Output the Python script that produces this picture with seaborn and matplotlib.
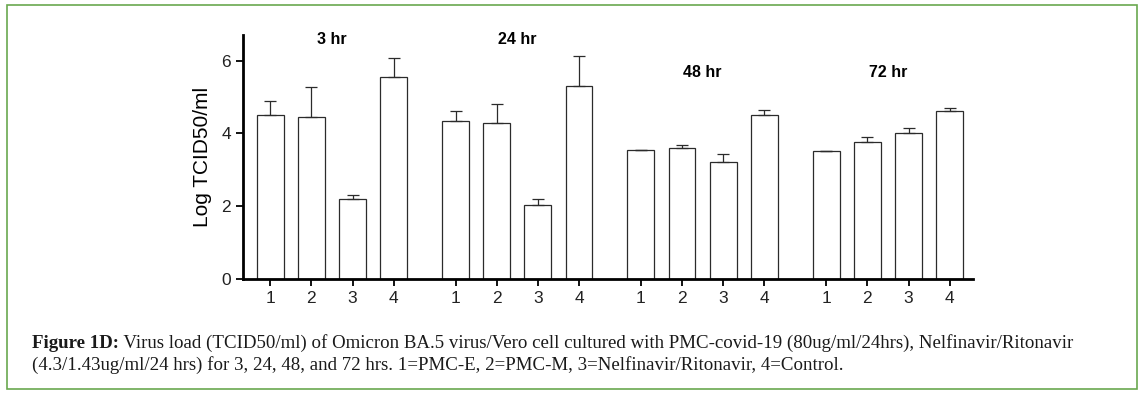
import numpy as np
import pandas as pd
import matplotlib
matplotlib.use("Agg")
import matplotlib.pyplot as plt
from matplotlib.patches import Rectangle
import seaborn as sns

# ─────────────────────────────────────────
# DATA
# ─────────────────────────────────────────
groups     = ["3 hr", "24 hr", "48 hr", "72 hr"]
treatments = ["1", "2", "3", "4"]

means_3hr  = [4.49, 4.46, 2.20, 5.54]
err_3hr    = [0.40, 0.82, 0.11, 0.54]
means_24hr = [4.35, 4.29, 2.03, 5.29]
err_24hr   = [0.25, 0.52, 0.17, 0.84]
means_48hr = [3.54, 3.60, 3.20, 4.51]
err_48hr   = [0.00, 0.08, 0.23, 0.13]
means_72hr = [3.52, 3.75, 4.00, 4.62]
err_72hr   = [0.00, 0.14, 0.14, 0.07]

caption_bold = "Figure 1D:"
caption_rest = (" Virus load (TCID50/ml) of Omicron BA.5 virus/Vero cell cultured with "
                "PMC-covid-19 (80ug/ml/24hrs), Nelfinavir/Ritonavir")
caption_line2 = ("(4.3/1.43ug/ml/24 hrs) for 3, 24, 48, and 72 hrs. 1=PMC-E, 2=PMC-M, "
                 "3=Nelfinavir/Ritonavir, 4=Control.")

# ─────────────────────────────────────────
# build a long table; bars placed in groups of 4 with a gap between groups
# ─────────────────────────────────────────
allMeans = [means_3hr, means_24hr, means_48hr, means_72hr]
allErrs  = [err_3hr, err_24hr, err_48hr, err_72hr]
groupStep = 4.5

rows = []
for g, grp in enumerate(groups):
    for b, trt in enumerate(treatments):
        rows.append({"group": grp, "treatment": trt,
                     "pos": g * groupStep + b,
                     "value": allMeans[g][b], "err": allErrs[g][b]})
df = pd.DataFrame(rows)

# ─────────────────────────────────────────
# PLOT
# ─────────────────────────────────────────
sns.set_style("ticks")
plt.rcParams["font.family"] = ["Liberation Sans", "DejaVu Sans"]

fig = plt.figure(figsize=(11.48, 3.98), dpi=100)
ax = fig.add_axes([0.2117, 0.299, 0.636, 0.613])

edge = "#2b2b2b"
sns.barplot(data=df, x="pos", y="value", native_scale=True, width=0.65,
            color="white", edgecolor=edge, linewidth=0.9, errorbar=None,
            saturation=1, ax=ax)

# upper-only error bars
ax.errorbar(df["pos"], df["value"], yerr=[np.zeros(len(df)), df["err"]],
            fmt="none", ecolor=edge, elinewidth=0.9, capsize=4.3, capthick=0.9)

# group labels above each set of bars
labelHeights = [6.57, 6.57, 5.66, 5.66]
for g, grp in enumerate(groups):
    ax.text(g * groupStep + 1.5, labelHeights[g], grp, ha="center", va="center",
            fontsize=11.5, fontweight="bold", color="black")

ax.set_xlim(-0.66, 17.07)
ax.set_ylim(0, 6.7)
ax.set_xticks(df["pos"])
ax.set_xticklabels(df["treatment"])
ax.set_yticks([0, 2, 4, 6])
ax.set_xlabel("")
ax.set_ylabel("Log TCID50/ml", fontsize=15, labelpad=7, color="black")
ax.tick_params(axis="both", labelsize=12.5, width=1.3, length=5, color="black",
               labelcolor="#222222", direction="out")
for side in ["top", "right"]:
    ax.spines[side].set_visible(False)
for side in ["left", "bottom"]:
    ax.spines[side].set_linewidth(2)
    ax.spines[side].set_color("black")

# ─────────────────────────────────────────
# caption and green frame
# ─────────────────────────────────────────
capFont = ["Liberation Serif", "DejaVu Serif"]
capSize = 13.6
t1 = fig.text(0.028, 1 - 343 / 398, caption_bold, fontsize=capSize, fontweight="bold",
              family=capFont, va="center", ha="left", color="#1a1a1a")
ax.annotate(caption_rest, xy=(1, 0.5), xycoords=t1, va="center", ha="left",
            fontsize=capSize, family=capFont, color="#1a1a1a", annotation_clip=False)
fig.text(0.028, 1 - 365 / 398, caption_line2, fontsize=capSize, family=capFont,
         va="center", ha="left", color="#1a1a1a")

frame = Rectangle((6.5 / 1148, 9.5 / 398), (1137 - 6.5) / 1148, (393 - 9.5) / 398,
                  transform=fig.transFigure, fill=False, edgecolor="#6aa84f",
                  linewidth=1.2)
fig.patches.append(frame)

fig.savefig("out.png", dpi=100)
plt.close(fig)
